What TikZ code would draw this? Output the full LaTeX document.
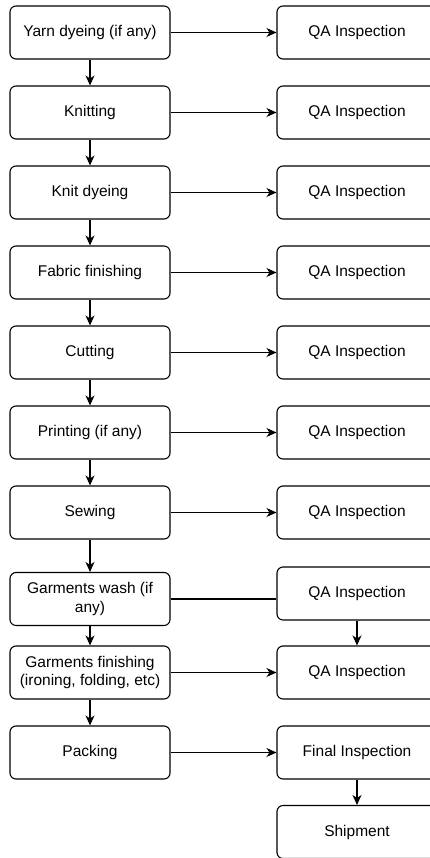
\documentclass[tikz,border=0pt]{standalone}
\usepackage{fontspec}
\setmainfont{Liberation Sans}
\usetikzlibrary{arrows.meta,positioning}

\begin{document}
\begin{tikzpicture}[
    x=1pt,y=1pt,
    normal line/.style={-{Stealth[length=10pt,width=9pt,inset=3pt]},line width=1.1pt},
    plain line/.style={line width=1.1pt},
    box/.style={draw,rounded corners=6pt,line width=1.1pt,minimum width=160pt,minimum height=53pt,align=center,inner sep=2pt,font=\fontsize{15.5}{18.5}\selectfont},
    node distance=80pt,
]
\useasboundingbox (0,0) rectangle (430,-858);
\node[box] (p-1) at (90,-32.5) {Yarn dyeing (if any)};
\node[box,below of=p-1] (p-2) {Knitting};
\node[box,below of=p-2] (p-3) {Knit dyeing};
\node[box,below of=p-3] (p-4) {Fabric finishing};
\node[box,below of=p-4] (p-5) {Cutting};
\node[box,below of=p-5] (p-6) {Printing (if any)};
\node[box,below of=p-6] (p-7) {Sewing};
\node[box,below of=p-7,node distance=86.5pt] (p-8) {Garments wash (if\\any)};
\node[box,below of=p-8,node distance=73.5pt] (p-9) {Garments finishing\\(ironing, folding, etc)};
\node[box,below of=p-9] (p-10) {Packing};
    \path[normal line]
        (p-1) edge (p-2)
        (p-2) edge (p-3)
        (p-3) edge (p-4)
        (p-4) edge (p-5)
        (p-5) edge (p-6)
        (p-6) edge (p-7)
        (p-7) edge (p-8)
        (p-8) edge (p-9)
        (p-9) edge (p-10)
;
\node[box,right of=p-1,node distance=267pt] (q-1) {QA Inspection};
\node[box,right of=p-2,node distance=267pt] (q-2) {QA Inspection};
\node[box,right of=p-3,node distance=267pt] (q-3) {QA Inspection};
\node[box,right of=p-4,node distance=267pt] (q-4) {QA Inspection};
\node[box,right of=p-5,node distance=267pt] (q-5) {QA Inspection};
\node[box,right of=p-6,node distance=267pt] (q-6) {QA Inspection};
\node[box,right of=p-7,node distance=267pt] (q-7) {QA Inspection};
\node[box,right of=p-8,node distance=267pt,yshift=5.5pt] (q-8) {QA Inspection};
\node[box,right of=p-9,node distance=267pt] (q-9) {QA Inspection};
\node[box,right of=p-10,node distance=267pt] (q-10) {Final Inspection};
\node[box,below of=q-10,node distance=79.5pt] (ship) {Shipment};
\path[normal line]
    (p-1) edge (q-1)
    (p-2) edge (q-2)
    (p-3) edge (q-3)
    (p-4) edge (q-4)
    (p-5) edge (q-5)
    (p-6) edge (q-6)
    (p-7) edge (q-7)
    (q-8) edge (q-9)
    (p-9) edge (q-9)
    (p-10) edge (q-10)
    (q-10) edge (ship);
\draw[plain line] (p-8.east) -- (p-8.east -| q-8.west);
\end{tikzpicture}
\end{document}
